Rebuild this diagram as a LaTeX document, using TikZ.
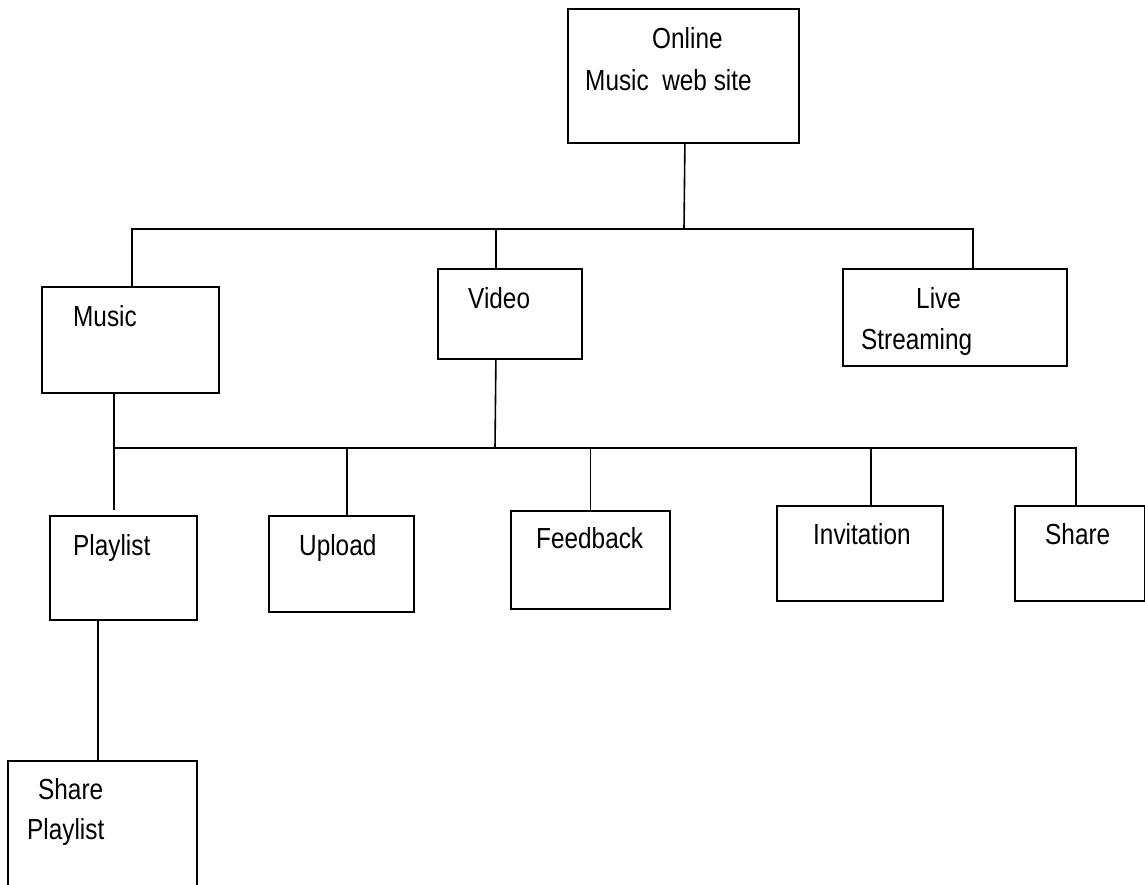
\documentclass[tikz,border=0pt]{standalone}
\usepackage{fontspec}
\newfontfamily\boxfont[FakeStretch=0.84]{Liberation Sans}

\begin{document}
\begin{tikzpicture}[x=1pt,y=-1pt,
    box/.style={draw,line width=1.8pt,inner sep=0pt,anchor=north west},
    lbl/.style={anchor=base west,inner sep=0pt,
      font=\boxfont\fontsize{29}{35}\selectfont},
    wire/.style={line width=1.6pt}]
  \useasboundingbox (0,0) rectangle (1145,884);
  % boxes
  \node[box,minimum width=231pt,minimum height=134pt] (online) at (567,8) {};
  \node[box,minimum width=177pt,minimum height=106pt] (music) at (41,286) {};
  \node[box,minimum width=144pt,minimum height=90pt] (video) at (437,268) {};
  \node[box,minimum width=224pt,minimum height=97pt] (live) at (842,268) {};
  \node[box,minimum width=147pt,minimum height=104pt] (playlist) at (49,515) {};
  \node[box,minimum width=145pt,minimum height=96pt] (upload) at (268,515) {};
  \node[box,minimum width=159pt,minimum height=98pt] (feedback) at (510,510) {};
  \node[box,minimum width=166pt,minimum height=95pt] (invitation) at (776,505) {};
  \node[box,minimum width=130pt,minimum height=95pt] (share) at (1014,505) {};
  \node[box,minimum width=189pt,minimum height=160pt] (shareplaylist) at (7,760) {};
  % texts
  \node[lbl] (online-a) at (652,48) {Online};
  \node[lbl] (online-b) at (585,90) {Music\ \ web site};
  \node[lbl] (music-a) at (73,326) {Music};
  \node[lbl] (video-a) at (468,308) {Video};
  \node[lbl] (live-a) at (916,308) {Live};
  \node[lbl] (live-b) at (861,349) {Streaming};
  \node[lbl] (playlist-a) at (73,555) {Playlist};
  \node[lbl] (upload-a) at (299,555) {Upload};
  \node[lbl] (feedback-a) at (536,548) {Feedback};
  \node[lbl] (invitation-a) at (813,544) {Invitation};
  \node[lbl] (share-a) at (1045,544) {Share};
  \node[lbl] (shareplaylist-a) at (38,799) {Share};
  \node[lbl] (shareplaylist-b) at (27,839) {Playlist};
  % branch points
  \coordinate (topbar) at (684,229);
  \coordinate (lowbar) at (495,448);
  % connectors
  \draw[wire] ([xshift=1.5pt]online.south) -- (topbar);
  \draw[wire] (topbar) -| ([xshift=1.5pt]music.north);
  \draw[wire] (topbar) -| ([xshift=-14pt]video.north);
  \draw[wire] (topbar) -| ([xshift=18pt]live.north);
  \draw[wire] ([xshift=-16.5pt]music.south) |- (lowbar);
  \draw[wire] ([xshift=-14pt]video.south) -- (lowbar);
  \draw[wire,shorten >=5pt] (lowbar) -| ([xshift=-9.5pt]playlist.north);
  \draw[wire] (lowbar) -| ([xshift=5.5pt]upload.north);
  \draw[wire] (lowbar) -| (feedback.north);
  \draw[wire] (lowbar) -| ([xshift=11pt]invitation.north);
  \draw[wire] (lowbar) -| ([xshift=-4pt]share.north);
  \draw[wire] ([xshift=-25.5pt]playlist.south) -- ([xshift=-4.5pt]shareplaylist.north);
\end{tikzpicture}
\end{document}
